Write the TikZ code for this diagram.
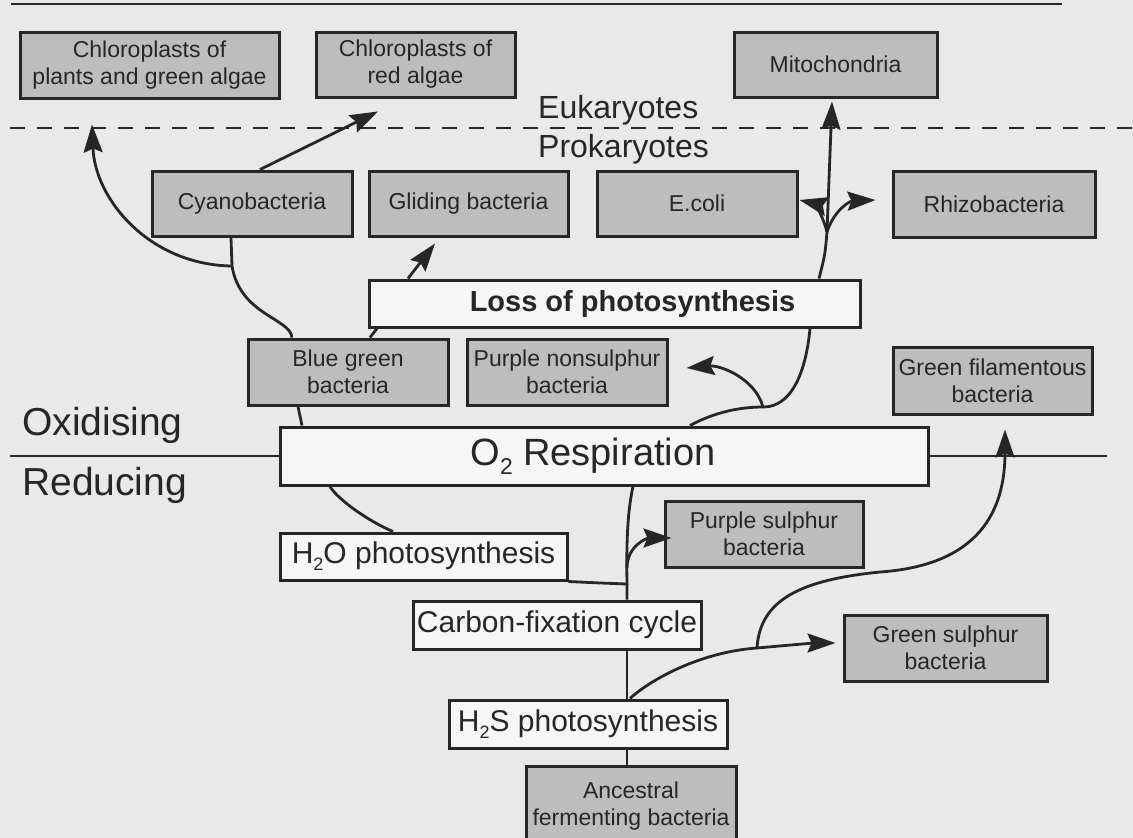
\documentclass[tikz,border=0pt]{standalone}
\usepackage{graphicx}
\usepackage{fontspec}
\setmainfont{Liberation Sans}
\usetikzlibrary{arrows.meta,calc}
\definecolor{bgc}{HTML}{E9E9E9}
\definecolor{boxg}{HTML}{BDBDBD}
\definecolor{boxw}{HTML}{F6F6F6}
\definecolor{ink}{HTML}{262626}
\newcommand\mysub[1]{\raisebox{-0.24em}{\scalebox{0.6}{#1}}}
\begin{document}
\begin{tikzpicture}[x=1pt,y=-1pt,
  gbox/.style={draw=ink, fill=boxg, line width=3pt, inner sep=0pt, align=center, text=ink, font=\fontsize{23}{27}\selectfont},
  wbox/.style={draw=ink, fill=boxw, line width=3pt, inner sep=0pt, align=center, text=ink, font=\fontsize{30}{34}\selectfont},
  conn/.style={draw=ink, line width=2.8pt},
  arr/.style={conn, -{Stealth[length=28pt,width=19pt,inset=4pt]}},
  lbl/.style={anchor=base west, inner sep=0pt, text=ink},
]
\useasboundingbox (0,0) rectangle (1133,838);
\clip (0,0) rectangle (1133,838);
\fill[bgc] (0,0) rectangle (1133,838);

% boxes
\node[gbox, minimum width=259pt, minimum height=66pt] (chlpl) at (149.5,65) {Chloroplasts of\\plants and green algae};
\node[gbox, minimum width=199pt, minimum height=65pt] (chlred) at (415.5,64.5) {Chloroplasts of\\red algae};
\node[gbox, minimum width=203pt, minimum height=65pt] (mito) at (835.5,64.5) {Mitochondria};
\node[gbox, minimum width=200pt, minimum height=65pt] (cyano) at (252,203.5) {Cyanobacteria};
\node[gbox, minimum width=199pt, minimum height=65pt] (glide) at (468.5,203.5) {Gliding bacteria};
\node[gbox, minimum width=200pt, minimum height=65pt] (ecoli) at (697,203.5) {E.coli};
\node[gbox, minimum width=202pt, minimum height=66pt] (rhizo) at (994,204) {Rhizobacteria};
\node[wbox, minimum width=491pt, minimum height=47pt, font=\fontsize{29}{33}\selectfont\bfseries] (loss) at (614.5,303.5) {\hspace*{36pt}Loss of photosynthesis};
\node[gbox, minimum width=200pt, minimum height=66pt] (bluegreen) at (348,372) {Blue green\\bacteria};
\node[gbox, minimum width=200pt, minimum height=66pt] (purplens) at (567,372) {Purple nonsulphur\\bacteria};
\node[gbox, minimum width=199pt, minimum height=67pt] (greenfil) at (992.5,380.5) {Green filamentous\\bacteria};
\node[wbox, minimum width=648pt, minimum height=58pt, font=\fontsize{38}{42}\selectfont] (o2) at (604,456) {O\mysub{2} Respiration\hspace*{22pt}};
\node[wbox, minimum width=287pt, minimum height=47pt] (h2o) at (423.5,556.5) {H\mysub{2}O photosynthesis};
\node[wbox, minimum width=288pt, minimum height=48pt] (carbon) at (557,625) {Carbon-fixation cycle};
\node[wbox, minimum width=278pt, minimum height=48pt] (h2s) at (588,724) {H\mysub{2}S photosynthesis};
\node[gbox, minimum width=198pt, minimum height=66pt] (purples) at (764,534) {Purple sulphur\\bacteria};
\node[gbox, minimum width=203pt, minimum height=66pt] (greens) at (945.5,648) {Green sulphur\\bacteria};
\node[gbox, minimum width=210pt, minimum height=80pt] (anc) at (631,806) {Ancestral\\fermenting bacteria};

% labels
\node[lbl, font=\fontsize{32}{36}\selectfont] (euk) at (538,118) {Eukaryotes};
\node[lbl, font=\fontsize{32}{36}\selectfont] (prok) at (538,157) {Prokaryotes};
\node[lbl, font=\fontsize{39}{43}\selectfont] (oxi) at (22,435) {Oxidising};
\node[lbl, font=\fontsize{39}{43}\selectfont] (redu) at (22,495) {Reducing};

% separator lines
\coordinate (tl) at (11,4); \coordinate (tr) at (1062,4);
\draw[conn, line width=2.2pt] (tl) -- (tr);
\coordinate (dl) at (10,128); \coordinate (dr) at (1133,128);
\draw[conn, dash pattern=on 15pt off 12pt] (dl) -- (dr);
\coordinate (oxl) at (10,456); \coordinate (oxr) at (1107,456);
\draw[conn] (oxl) -- (o2.west);
\draw[conn] (o2.east) -- (oxr);

% trunk
\coordinate (tx) at (627,0);
\draw[conn] (anc.north -| tx) -- (h2s.south -| tx);
\draw[conn] (h2s.north -| tx) -- (carbon.south -| tx);
\coordinate (j1) at (627,584);
\draw[conn] (carbon.north -| tx) -- (j1) .. controls (626,530) and (629,505) .. (o2.south -| 633,0);
\draw[conn] (h2o.south east) .. controls (600,583) .. (j1);
\coordinate (jps) at (627,568);
\draw[arr] (jps) .. controls (627,545) and (648,538) .. ($(purples.west)+(8,4)$);

% left lineage
\draw[conn] (h2o.north -| 393,0) .. controls (370,522) and (338,500) .. (o2.south -| 330,0);
\draw[conn] (o2.north -| 302,0) -- (bluegreen.south -| 298,0);
\coordinate (jc) at (232,266);
\draw[conn] (bluegreen.north -| 292,0) .. controls (290,318) and (240,315) .. (jc) -- (cyano.south -| 231,0);
\draw[arr] (jc) .. controls (150,265) and (95,200) .. ($(chlpl.south -| 92,0)+(0,25)$);
\draw[arr] (cyano.north -| 260,0) -- ($(chlred.south -| 378,0)+(0,13)$);
\draw[conn] (bluegreen.north -| 370,0) -- (loss.south -| 377,0);
\draw[arr] (loss.north -| 408,0) -- ($(glide.south -| 435,0)+(0,6)$);

% right lineage
\coordinate (jp) at (763,407);
\draw[conn] (o2.north -| 690,0) .. controls (715,412) and (740,407) .. (jp) .. controls (800,407) and (808,350) .. (loss.south -| 810,0);
\draw[arr] (jp) .. controls (755,378) and (720,365) .. ($(purplens.east)+(18,-4)$);
\coordinate (jm) at (827,232);
\draw[arr] (loss.north -| 819,0) .. controls (825,255) .. (jm) -- ($(mito.south -| 832,0)+(0,3)$);
\draw[arr] (jm) .. controls (822,212) and (812,203) .. ($(ecoli.east)+(1,-3.5)$);
\draw[arr] (jm) .. controls (834,210) and (850,201) .. ($(rhizo.west)+(-16,-4)$);

% sulphur branches
\coordinate (jg) at (757,648);
\draw[arr] (h2s.north -| 630,0) .. controls (650,680) and (700,652) .. (jg) .. controls (790,645) and (815,643) .. ($(greens.west)+(-7,-5)$);
\draw[arr] (jg) .. controls (760,600) and (800,580) .. (880,572) .. controls (980,565) and (1005,510) .. ($(greenfil.south)+(12.5,14)$);
\end{tikzpicture}
\end{document}
